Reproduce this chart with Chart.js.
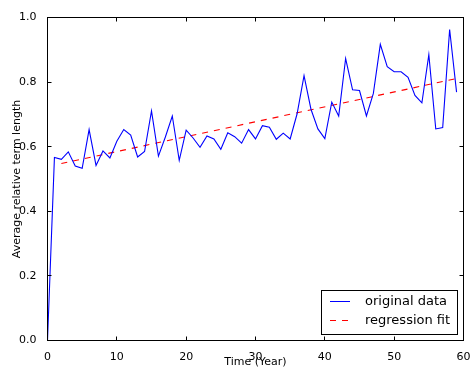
<!DOCTYPE html>
<html>
<head>
<meta charset="utf-8">
<script src="https://cdn.jsdelivr.net/npm/chart.js@4/dist/chart.umd.min.js"></script>
<style>
html,body{margin:0;padding:0;background:#fff;}
canvas{display:block;}
</style>
</head>
<body>
<canvas id="c" width="470" height="367"></canvas>
<script>
const years = [0,1,2,3,4,5,6,7,8,9,10,11,12,13,14,15,16,17,18,19,20,21,22,23,24,25,26,27,28,29,30,31,32,33,34,35,36,37,38,39,40,41,42,43,44,45,46,47,48,49,50,51,52,53,54,55,56,57,58,59];
const termLength = [0,0.567,0.561,0.584,0.540,0.533,0.653,0.542,0.587,0.565,0.617,0.653,0.636,0.568,0.585,0.711,0.571,0.630,0.695,0.558,0.651,0.627,0.598,0.633,0.624,0.592,0.643,0.631,0.611,0.653,0.624,0.665,0.660,0.623,0.642,0.624,0.702,0.820,0.716,0.655,0.625,0.738,0.695,0.873,0.776,0.774,0.695,0.765,0.917,0.848,0.832,0.832,0.815,0.759,0.736,0.885,0.655,0.659,0.963,0.769];
const fitYears = [2,59];
const fitValues = [0.548,0.811];
const xTicks = [0,10,20,30,40,50,60];
const yTicks = [0.0,0.2,0.4,0.6,0.8,1.0];
const seriesLabels = ["original data","regression fit"];
const xTitle = "Time (Year)";
const yTitle = "Average relative term length";

const FONT = "'DejaVu Sans', sans-serif";

const frameAndTicks = {
  id: 'frameAndTicks',
  afterDatasetsDraw(chart) {
    const ctx = chart.ctx, a = chart.chartArea;
    const xs = chart.scales.x, ys = chart.scales.y;
    ctx.save();
    ctx.strokeStyle = '#000';
    ctx.lineWidth = 1;
    ctx.beginPath();
    xTicks.forEach(v => {
      const px = Math.round(xs.getPixelForValue(v) - 0.5) + 0.5;
      ctx.moveTo(px, a.bottom); ctx.lineTo(px, a.bottom - 4);
      ctx.moveTo(px, a.top); ctx.lineTo(px, a.top + 4);
    });
    yTicks.forEach(v => {
      const py = Math.round(ys.getPixelForValue(v) - 0.5) + 0.5;
      ctx.moveTo(a.left, py); ctx.lineTo(a.left + 4, py);
      ctx.moveTo(a.right, py); ctx.lineTo(a.right - 4, py);
    });
    ctx.stroke();
    ctx.strokeRect(a.left, a.top, a.right - a.left, a.bottom - a.top);

    // legend box
    const bx = 321.5, by = 290.5, bw = 136, bh = 44;
    ctx.fillStyle = '#fff';
    ctx.fillRect(bx, by, bw, bh);
    ctx.strokeStyle = '#000';
    ctx.strokeRect(bx, by, bw, bh);
    const rows = [301.5, 320.5];
    chart.data.datasets.forEach((ds, i) => {
      const y = rows[i];
      ctx.beginPath();
      ctx.strokeStyle = ds.borderColor;
      ctx.lineWidth = 1;
      ctx.setLineDash(ds.borderDash || []);
      ctx.moveTo(330, y); ctx.lineTo(350, y);
      ctx.stroke();
      ctx.setLineDash([]);
      ctx.fillStyle = '#000';
      ctx.font = "13px " + FONT;
      ctx.textBaseline = 'middle';
      ctx.textAlign = 'left';
      ctx.fillText(ds.label, 365, y);
    });
    ctx.restore();
  }
};

new Chart(document.getElementById('c'), {
  type: 'line',
  data: {
    datasets: [
      {
        label: seriesLabels[0],
        data: years.map((x, i) => ({x: x, y: termLength[i]})),
        borderColor: '#0000ff',
        borderWidth: 1.1,
        pointRadius: 0,
        tension: 0,
        fill: false
      },
      {
        label: seriesLabels[1],
        data: fitYears.map((x, i) => ({x: x, y: fitValues[i]})),
        borderColor: '#ff0000',
        borderWidth: 1.1,
        borderDash: [6, 6],
        pointRadius: 0,
        tension: 0,
        fill: false
      }
    ]
  },
  options: {
    responsive: false,
    animation: false,
    devicePixelRatio: 1,
    layout: { padding: { top: 17.5, right: 6.5, left: 0, bottom: 0 } },
    plugins: { legend: { display: false }, tooltip: { enabled: false } },
    scales: {
      x: {
        type: 'linear',
        min: 0, max: 60,
        afterBuildTicks(s) { s.ticks = xTicks.map(v => ({value: v})); },
        afterFit(s) { s.height = 26.5; s.paddingLeft = 0; s.paddingRight = 0; },
        grid: { display: false },
        border: { display: false },
        ticks: {
          color: '#000', padding: 2, maxRotation: 0, autoSkip: false,
          font: { family: FONT, size: 11 },
          callback: v => String(v)
        },
        title: {
          display: true, text: xTitle, color: '#000',
          font: { family: FONT, size: 11, lineHeight: 0.85 },
          padding: { top: 0, bottom: 0 }
        }
      },
      y: {
        type: 'linear',
        min: 0, max: 1,
        afterBuildTicks(s) { s.ticks = yTicks.map(v => ({value: v})); },
        afterFit(s) { s.width = 47.5; s.paddingTop = 0; s.paddingBottom = 0; },
        grid: { display: false },
        border: { display: false },
        ticks: {
          color: '#000', padding: 3, autoSkip: false,
          font: { family: FONT, size: 11 },
          callback: v => Number(v).toFixed(1)
        },
        title: {
          display: true, text: yTitle, color: '#000',
          font: { family: FONT, size: 11, lineHeight: 1 },
          padding: { top: 11.5, bottom: 0 }
        }
      }
    }
  },
  plugins: [frameAndTicks]
});
</script>
</body>
</html>
